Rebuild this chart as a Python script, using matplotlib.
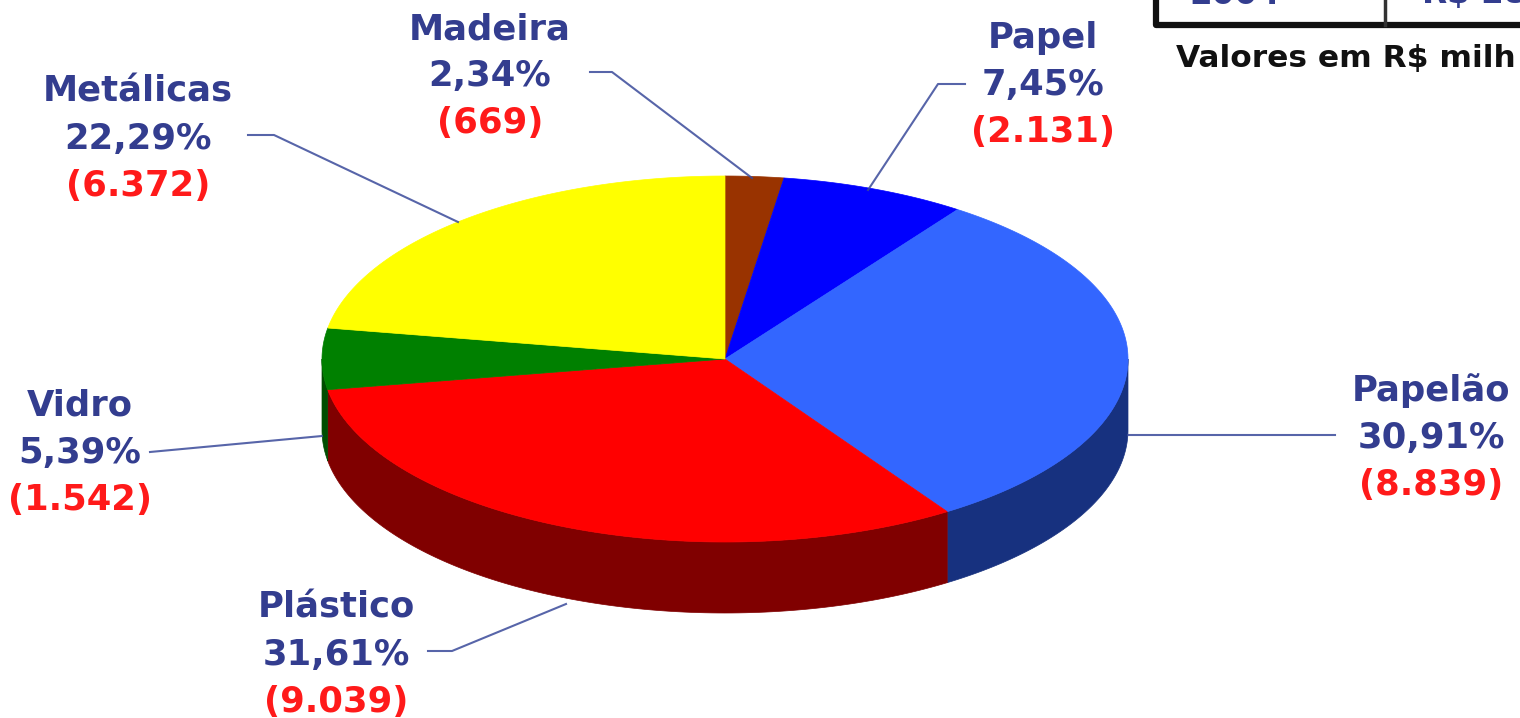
import numpy as np
import matplotlib
matplotlib.use("Agg")
import matplotlib.pyplot as plt
from matplotlib.patches import Polygon

# slices, clockwise from the top of the pie
names = ['Madeira', 'Papel', 'Papelão', 'Plástico', 'Vidro', 'Metálicas']
pcts = ['2,34%', '7,45%', '30,91%', '31,61%', '5,39%', '22,29%']
vals = ['(669)', '(2.131)', '(8.839)', '(9.039)', '(1.542)', '(6.372)']
shares = [2.34, 7.45, 30.91, 31.61, 5.39, 22.29]
tops = ['#993300', '#0000ff', '#3366ff', '#ff0000', '#008000', '#ffff00']
sides = ['#662200', '#000080', '#17317f', '#800000', '#004d00', '#808000']

# label centres and leader lines (pixels)
label_xy = [(490, 76), (1043, 85), (1431, 438), (336, 655), (80, 453), (138, 139)]
leaders = [
    [(590, 72), (612, 72), (752, 178)],
    [(965, 84), (938, 84), (868, 190)],
    [(1335, 435), (1128, 435)],
    [(428, 651), (452, 651), (566, 604)],
    [(150, 452), (322, 436)],
    [(248, 135), (274, 135), (458, 222)],
]

W, H = 1520, 718
cx, cy, rx, ry, depth = 725, 359, 403, 183, 71

fig = plt.figure(figsize=(W / 100, H / 100), dpi=100)
ax = fig.add_axes([0, 0, 1, 1])
ax.set_xlim(0, W)
ax.set_ylim(H, 0)
ax.axis('off')

edges = np.cumsum([0] + shares) / sum(shares) * 2 * np.pi


def rim(a0, a1, n=120):
    t = np.linspace(a0, a1, n)
    return cx + rx * np.sin(t), cy - ry * np.cos(t)


# side wall, only the lower half shows
for i in range(len(shares)):
    a0 = max(edges[i], np.pi / 2)
    a1 = min(edges[i + 1], 3 * np.pi / 2)
    if a1 <= a0:
        continue
    x, y = rim(a0, a1)
    pts = np.r_[np.c_[x, y], np.c_[x[::-1], y[::-1] + depth]]
    ax.add_patch(Polygon(pts, fc=sides[i], ec=sides[i], lw=0.5, zorder=1))

for i in range(len(shares)):
    x, y = rim(edges[i], edges[i + 1])
    pts = np.r_[[(cx, cy)], np.c_[x, y]]
    ax.add_patch(Polygon(pts, fc=tops[i], ec=tops[i], lw=0.5, zorder=2))

for line in leaders:
    xs, ys = zip(*line)
    ax.plot(xs, ys, color='#3a4a9a', lw=1.5, alpha=0.85, zorder=3)

font = dict(family='DejaVu Sans', fontsize=25.5, fontweight='bold', ha='center', va='center')
for i, (lx, ly) in enumerate(label_xy):
    ax.text(lx, ly - 47, names[i], color='#333d8f', **font)
    ax.text(lx, ly, pcts[i], color='#333d8f', **font)
    ax.text(lx, ly + 47, vals[i], color='#ff1a1a', **font)

# piece of the table cut off at the top right
ax.plot([1156, 1156, 1520], [0, 25, 25], color='#111111', lw=4.5)
ax.plot([1385, 1385], [0, 25], color='#333333', lw=2.5)
ax.text(1235, -6, '2004', color='#333d8f', fontsize=23.5, family='DejaVu Sans',
        fontweight='bold', ha='center', va='center')
ax.text(1422, -6, 'R$ 28', color='#333d8f', fontsize=23.5, family='DejaVu Sans',
        fontweight='bold', ha='left', va='center')
ax.text(1176, 59, 'Valores em R$ milh', fontsize=22.5, family='DejaVu Sans',
        fontweight='bold', ha='left', va='center', color='#111111')

fig.savefig('out.png', dpi=100)
